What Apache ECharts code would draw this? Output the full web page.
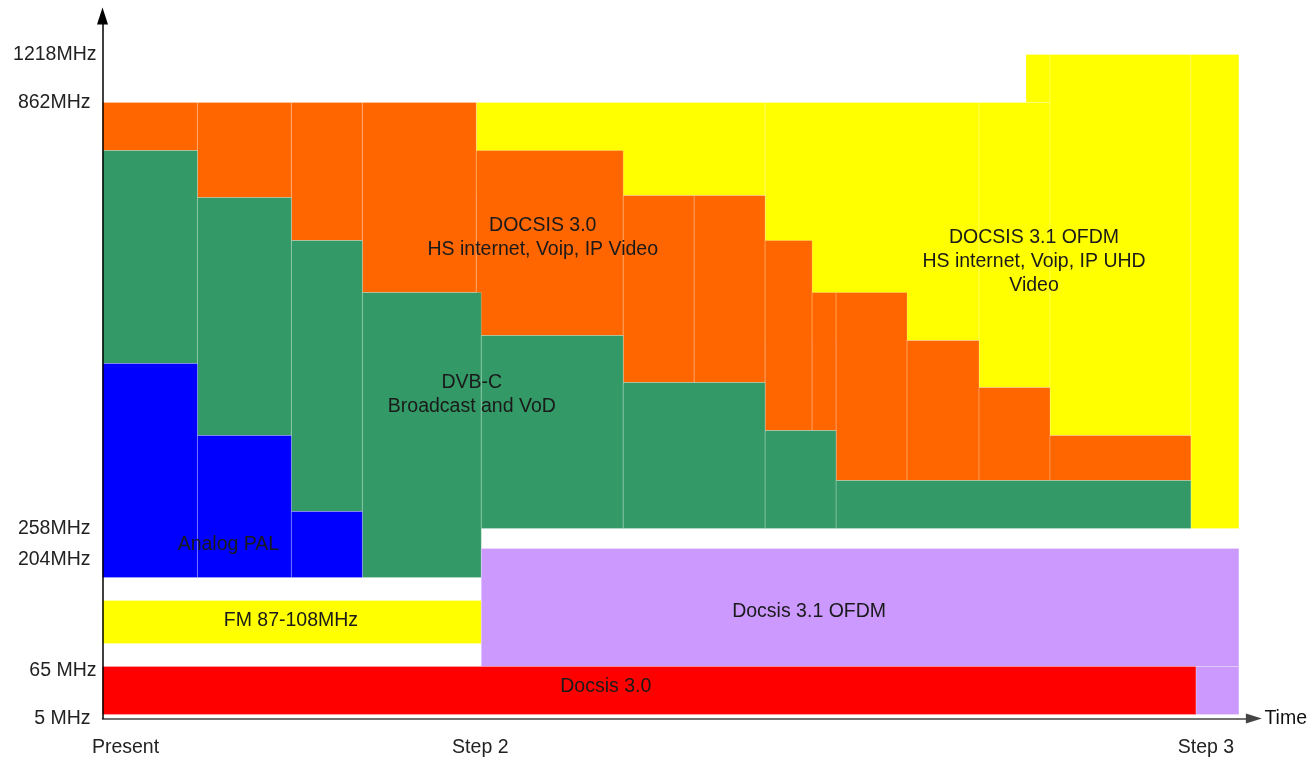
<!DOCTYPE html>
<html>
<head>
<meta charset="utf-8">
<script src="https://cdn.jsdelivr.net/npm/echarts@6/dist/echarts.min.js"></script>
<style>
html,body{margin:0;padding:0;background:#fff;}
#chart{width:1310px;height:758px;}
</style>
</head>
<body>
<div id="chart"></div>
<script>
// ---- Axis ticks (schematic spectrum levels / time steps) ----
const xTickValues = [23, 378, 1104];
const xTickLabels = ['Present', 'Step 2', 'Step 3'];
const yTickValues = [0, 48, 159, 190, 616, 664];
const yTickLabels = ['5 MHz', '65 MHz', '204MHz', '258MHz', '862MHz', '1218MHz'];

// ---- Spectrum blocks: [timeStart, timeEnd, levelLow, levelHigh] ----
const docsis31DownBlocks = [
  [374, 663, 523, 616],
  [663, 877, 378, 616],
  [877, 948, 331, 616],
  [924, 948, 616, 664],
  [948, 1089, 283, 664],
  [1089, 1137, 190, 664]
];
const docsis30DownBlocks = [
  [0, 95, 568, 616],
  [95, 189, 521, 616],
  [189, 260, 478, 616],
  [260, 374, 426, 616],
  [374, 521, 383, 568],
  [521, 592, 336, 523],
  [592, 663, 336, 523],
  [663, 710, 288, 478],
  [710, 734, 288, 426],
  [734, 805, 238, 426],
  [805, 877, 238, 378],
  [877, 948, 238, 331],
  [948, 1089, 238, 283]
];
const dvbcBlocks = [
  [0, 95, 355, 568],
  [95, 189, 283, 521],
  [189, 260, 207, 478],
  [260, 379, 141, 426],
  [379, 521, 190, 383],
  [521, 663, 190, 336],
  [663, 734, 190, 288],
  [734, 1089, 190, 238]
];
const analogPalBlocks = [
  [0, 95, 141, 355],
  [95, 189, 141, 283],
  [189, 260, 141, 207]
];
const fmBlocks = [
  [0, 379, 75, 118]
];
const docsis31UpBlocks = [
  [379, 1137, 52, 170],
  [1094, 1137, 4, 52]
];
const docsis30UpBlocks = [
  [0, 1094, 4, 52]
];

// ---- Band labels ----
const bandLabelTexts = [
  'DOCSIS 3.0\nHS internet, Voip, IP Video',
  'DVB-C\nBroadcast and VoD',
  'Analog PAL',
  'FM 87-108MHz',
  'Docsis 3.1 OFDM',
  'Docsis 3.0',
  'DOCSIS 3.1 OFDM\nHS internet, Voip, IP UHD\nVideo'
];
const bandLabelAnchors = [
  [440.5, 481], [369.5, 324], [126, 173.5], [188.5, 97.5], [707, 107], [503.5, 32], [932, 457]
];

const FONT = "'Liberation Sans', Arial, sans-serif";
const FS = 19.5;

function blockSeries(name, data, color) {
  return {
    type: 'custom',
    name: name,
    data: data,
    encode: {x: [0, 1], y: [2, 3]},
    clip: false,
    renderItem: function (params, api) {
      const tl = api.coord([api.value(0), api.value(3)]);
      const br = api.coord([api.value(1), api.value(2)]);
      return {
        type: 'rect',
        shape: {x: tl[0], y: tl[1], width: br[0] - tl[0], height: br[1] - tl[1]},
        style: {fill: color, stroke: 'rgba(255,255,255,0.22)', lineWidth: 1}
      };
    }
  };
}

const chart = echarts.init(document.getElementById('chart'), null, {renderer: 'canvas'});
const option = {
  animation: false,
  backgroundColor: '#fff',
  grid: {left: 102.5, right: 55.5, top: 16, bottom: 39.5},
  xAxis: {
    type: 'value', min: 0, max: 1152,
    axisLine: {show: true, onZero: false, symbol: ['none', 'triangle'], symbolSize: [10, 16],
      lineStyle: {color: '#444', width: 1.5}},
    axisTick: {show: false},
    splitLine: {show: false},
    axisLabel: {
      customValues: xTickValues,
      formatter: function (v) { return xTickLabels[xTickValues.indexOf(v)]; },
      margin: 19, fontSize: FS, color: '#222', fontFamily: FONT
    },
    name: 'Time', nameLocation: 'end', nameGap: 10.5,
    nameTextStyle: {fontSize: FS, color: '#111', fontFamily: FONT, align: 'left', verticalAlign: 'middle'}
  },
  yAxis: {
    type: 'value', min: 0, max: 702.5, z: 10,
    axisLine: {show: true, onZero: false, symbol: ['none', 'triangle'], symbolSize: [11, 17],
      lineStyle: {color: '#000', width: 1.5}},
    axisTick: {show: false},
    splitLine: {show: false},
    axisLabel: {
      customValues: yTickValues,
      formatter: function (v) {
        const t = yTickLabels[yTickValues.indexOf(v)];
        return (t === '1218MHz' || t === '65 MHz') ? '{w|' + t + '}' : '{n|' + t + '}';
      },
      margin: 6, fontSize: FS, color: '#222', fontFamily: FONT,
      rich: {
        w: {fontSize: FS, color: '#222', fontFamily: FONT},
        n: {fontSize: FS, color: '#222', fontFamily: FONT, padding: [0, 6, 0, 0]}
      }
    }
  },
  series: [
    blockSeries('DOCSIS 3.1 OFDM', docsis31DownBlocks, '#FFFF00'),
    blockSeries('DOCSIS 3.0', docsis30DownBlocks, '#FF6600'),
    blockSeries('DVB-C', dvbcBlocks, '#339966'),
    blockSeries('Analog PAL', analogPalBlocks, '#0000FF'),
    blockSeries('FM', fmBlocks, '#FFFF00'),
    blockSeries('Docsis 3.1 OFDM upstream', docsis31UpBlocks, '#CC99FF'),
    blockSeries('Docsis 3.0 upstream', docsis30UpBlocks, '#FF0000'),
    {
      type: 'custom',
      name: 'labels',
      data: bandLabelAnchors,
      clip: false,
      z: 5,
      renderItem: function (params, api) {
        const p = api.coord([api.value(0), api.value(1)]);
        return {
          type: 'text', x: p[0], y: p[1],
          style: {
            text: bandLabelTexts[params.dataIndex],
            align: 'center', verticalAlign: 'middle',
            fontSize: FS, fontFamily: FONT, fill: '#1a1a1a', lineHeight: 24
          }
        };
      }
    }
  ]
};
chart.setOption(option);
</script>
</body>
</html>
